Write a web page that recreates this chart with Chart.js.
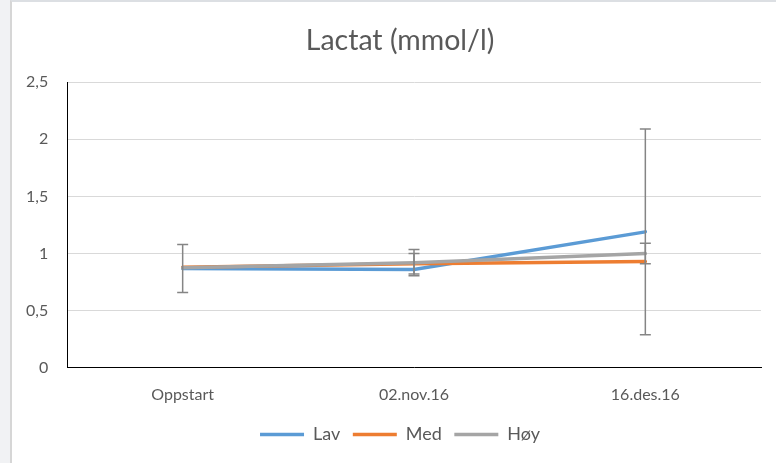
<!DOCTYPE html>
<html>
<head>
<meta charset="utf-8">
<script src="https://cdn.jsdelivr.net/npm/chart.js@4"></script>
<style>
  html, body { margin: 0; padding: 0; }
  body { width: 776px; height: 463px; background: #f1f2f4; position: relative; overflow: hidden; }
  #frame { position: absolute; left: 10px; top: 0; width: 766px; height: 463px; background: #fff;
           border-left: 2px solid #d6d6d6; border-top: 2px solid #dcdfe3; box-sizing: border-box; }
  #wrap { position: absolute; left: 12px; top: 2px; width: 764px; height: 461px; }
</style>
</head>
<body>
<div id="frame"></div>
<div id="wrap"><canvas id="myChart"></canvas></div>
<script>
var categories = ["Oppstart", "02.nov.16", "16.des.16"];
var lav = [0.87, 0.86, 1.19];
var med = [0.88, 0.91, 0.93];
var hoy = [0.875, 0.92, 1.00];
// error bar sizes (+/-), 0 = none
var lavErr = [0.21, 0, 0.90];
var medErr = [0, 0.09, 0];
var hoyErr = [0, 0.115, 0.09];

var fontFam = "Lato, 'Liberation Sans', sans-serif";
var txtColor = "#595959";

// draws the error bars on top of the lines
var errorBars = {
  id: "errorBars",
  afterDatasetsDraw: function (chart) {
    var ctx = chart.ctx;
    var xs = chart.scales.x, ys = chart.scales.y;
    ctx.save();
    ctx.strokeStyle = "#858585";
    ctx.lineWidth = 1.5;
    chart.data.datasets.forEach(function (ds) {
      ds.errors.forEach(function (e, i) {
        if (!e) return;
        var x = xs.getPixelForValue(i);
        var y1 = ys.getPixelForValue(ds.data[i] + e);
        var y2 = ys.getPixelForValue(ds.data[i] - e);
        ctx.beginPath();
        ctx.moveTo(x, y1); ctx.lineTo(x, y2);
        ctx.moveTo(x - 5.5, y1); ctx.lineTo(x + 5.5, y1);
        ctx.moveTo(x - 5.5, y2); ctx.lineTo(x + 5.5, y2);
        ctx.stroke();
      });
    });
    ctx.restore();
  }
};

var ctx = document.getElementById("myChart").getContext("2d");
var myChart = new Chart(ctx, {
  type: "line",
  data: {
    labels: categories,
    datasets: [{
      label: "Lav",
      data: lav,
      errors: lavErr,
      borderColor: "#5b9bd5",
      backgroundColor: "#5b9bd5",
      order: 3
    }, {
      label: "Med",
      data: med,
      errors: medErr,
      borderColor: "#ed7d31",
      backgroundColor: "#ed7d31",
      order: 2
    }, {
      label: "Høy",
      data: hoy,
      errors: hoyErr,
      borderColor: "#a5a5a5",
      backgroundColor: "#a5a5a5",
      order: 1
    }]
  },
  options: {
    responsive: true,
    maintainAspectRatio: false,
    animation: false,
    datasets: {
      line: { borderWidth: 3.5, pointRadius: 0, tension: 0, borderCapStyle: "round", fill: false }
    },
    layout: { padding: { left: 27, right: 15, top: 13, bottom: 9.5 } },
    plugins: {
      title: {
        display: true,
        text: "Lactat (mmol/l)",
        color: txtColor,
        font: { family: fontFam, size: 28.5, weight: "normal" },
        padding: { top: 9, bottom: 24 }
      },
      legend: {
        position: "bottom",
        labels: {
          color: txtColor,
          font: { family: fontFam, size: 18 },
          usePointStyle: true,
          pointStyle: "line",
          pointStyleWidth: 44,
          boxHeight: 4,
          padding: 12.5,
          sort: function (a, b) { return a.datasetIndex - b.datasetIndex; }
        }
      },
      tooltip: { enabled: false }
    },
    scales: {
      x: {
        offset: true,
        grid: { display: false },
        border: { display: true, color: "#000", width: 1 },
        ticks: { color: txtColor, font: { family: fontFam, size: 16 }, padding: 9 }
      },
      y: {
        min: 0,
        max: 2.5,
        afterFit: function (s) { s.width = 28; },
        ticks: {
          stepSize: 0.5,
          color: txtColor,
          font: { family: fontFam, size: 16 },
          // mirrored + right aligned so the labels sit left of the axis without being clipped
          mirror: true,
          crossAlign: "far",
          padding: -41,
          callback: function (v) { return String(v).replace(".", ","); }
        },
        grid: { color: "#d9d9d9", drawTicks: false },
        border: { display: true, color: "#000", width: 1 }
      }
    }
  },
  plugins: [errorBars]
});
</script>
</body>
</html>
